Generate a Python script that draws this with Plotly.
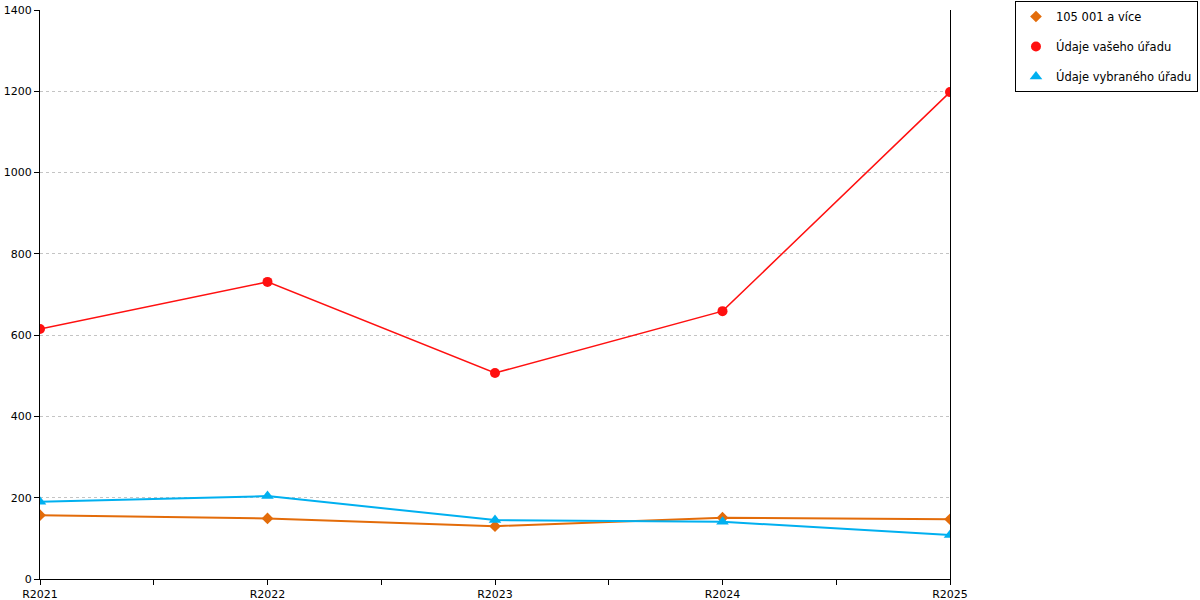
import plotly.graph_objects as go

# Data
years = [2021, 2022, 2023, 2024, 2025]
year_labels = ["R2021", "R2022", "R2023", "R2024", "R2025"]

size_group = [157, 149, 130, 151, 147]      # 105 001 a více
your_office = [615, 731, 507, 659, 1198]    # Údaje vašeho úřadu
chosen_office = [190, 204, 145, 141, 108]   # Údaje vybraného úřadu

series = [
    ("105 001 a více", size_group, "#E36C0A", "diamond", 9, 2),
    ("Údaje vašeho úřadu", your_office, "#FF1010", "circle", 10, 1.5),
    ("Údaje vybraného úřadu", chosen_office, "#00B0F0", "triangle-up", 11, 2),
]

fig = go.Figure()
for name, vals, color, symbol, msize, lw in series:
    # line without legend entry
    fig.add_trace(go.Scatter(
        x=years, y=vals, mode="lines", line=dict(color=color, width=lw),
        showlegend=False, hoverinfo="skip", legendgroup=name,
    ))
    # markers carry the legend entry (marker only, like the original)
    fig.add_trace(go.Scatter(
        x=years, y=vals, mode="markers", name=name, legendgroup=name,
        marker=dict(color=color, symbol=symbol, size=msize),
    ))

fig.update_layout(
    width=1200, height=600,
    margin=dict(l=40, r=250, t=10, b=21, autoexpand=False),
    plot_bgcolor="white", paper_bgcolor="white",
    font=dict(family="DejaVu Sans, Verdana, sans-serif", size=11, color="black"),
    legend=dict(
        x=1.0714, y=1.0158, xanchor="left", yanchor="top",
        bordercolor="black", borderwidth=1, bgcolor="white",
        font=dict(size=11.5), tracegroupgap=11, itemwidth=30,
    ),
)
fig.update_xaxes(
    range=[2021, 2025], tickvals=years, ticktext=year_labels,
    showline=True, linecolor="black", linewidth=1,
    ticks="outside", ticklen=5, tickcolor="black",
    showgrid=False, zeroline=False,
    minor=dict(tick0=2021.5, dtick=1, ticks="outside", ticklen=5, tickcolor="black"),
)
fig.update_yaxes(
    range=[0, 1400], dtick=200,
    showline=True, linecolor="black", linewidth=1, mirror=True,
    ticks="outside", ticklen=5, tickcolor="black",
    showgrid=True, gridcolor="#c4c4c4", griddash="dot", gridwidth=1,
    zeroline=False,
)

# drop the default body margin so the 1200x600 figure fills the window
fig.write_html("out.html", config={"displayModeBar": False},
               post_script="document.body.style.margin='0';")
